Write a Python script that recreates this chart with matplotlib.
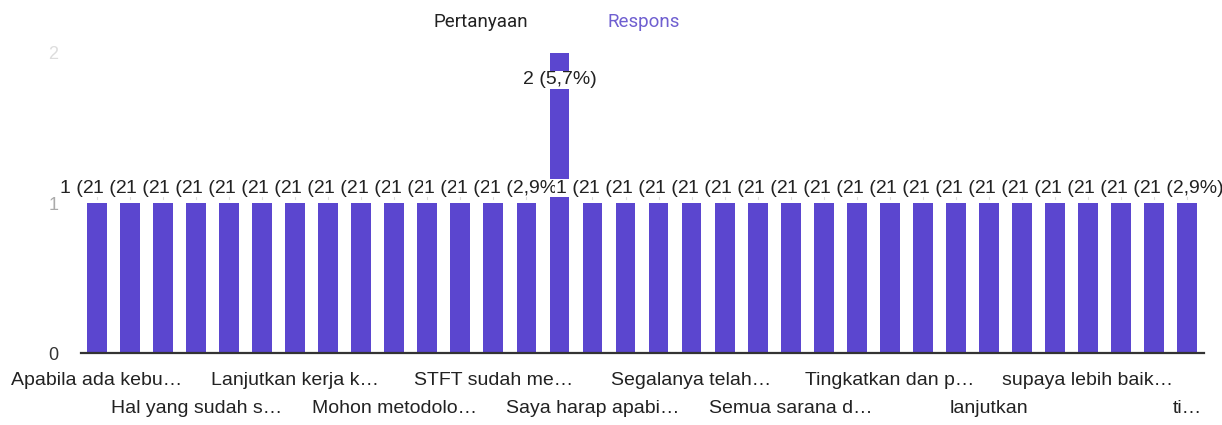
import matplotlib

matplotlib.use("Agg")
import matplotlib.pyplot as plt

# responses per answer (34 answers, 35 responses in total)
values = [1, 1, 1, 1, 1, 1, 1, 1, 1, 1, 1, 1, 1, 1, 2, 1, 1,
          1, 1, 1, 1, 1, 1, 1, 1, 1, 1, 1, 1, 1, 1, 1, 1, 1]
# only every third answer gets a label on the axis
label_positions = [0, 3, 6, 9, 12, 15, 18, 21, 24, 27, 30, 33]
tick_labels = ["Apabila ada kebu…", "Hal yang sudah s…", "Lanjutkan kerja k…",
               "Mohon metodolo…", "STFT sudah me…", "Saya harap apabi…",
               "Segalanya telah…", "Semua sarana d…", "Tingkatkan dan p…",
               "lanjutkan", "supaya lebih baik…", "ti…"]
y_ticks = [0, 1, 2]
legend_items = ["Pertanyaan", "Respons"]

BAR = "#5b46cf"
total = sum(values)

plt.rcParams["font.family"] = ["Liberation Sans", "DejaVu Sans"]
fig = plt.figure(figsize=(12.22, 4.25), dpi=100)
ax = fig.add_axes([0.0659, 0.1694, 0.919, 0.7059])

x = list(range(len(values)))
ax.bar(x, values, width=0.6, color=BAR, zorder=2)
ax.set_xlim(-0.5, len(values) - 0.5)
ax.set_ylim(0, 2)

# faint stems between label and bar top
for xi, v in zip(x, values):
    if v == 1:
        ax.plot([xi, xi], [1.03, 1.07], color="#dddddd", lw=0.8, zorder=1)

# value labels, drawn left to right so each one covers part of the previous
for xi, v in zip(x, values):
    pct = f"{100 * v / total:.1f}".replace(".", ",")
    y = v + 0.1 if v < 2 else 1.82
    ax.text(xi, y, f"{v} ({pct}%)", ha="center", va="center", fontsize=14,
            color="#222222", zorder=5, clip_on=False,
            bbox=dict(facecolor="white", edgecolor="none", pad=0.2))

for s in ["top", "right", "left"]:
    ax.spines[s].set_visible(False)
ax.spines["bottom"].set_color("#333333")
ax.spines["bottom"].set_linewidth(1.6)

ax.set_xticks(label_positions, tick_labels, fontsize=14, color="#222222")
ax.tick_params(axis="x", length=0)
for i, tick in enumerate(ax.xaxis.get_major_ticks()):
    tick.set_pad(14 if i % 2 == 0 else 34)

ax.set_yticks(y_ticks, [str(t) for t in y_ticks], fontsize=13)
ax.tick_params(axis="y", length=0, pad=16)
for lab, c in zip(ax.get_yticklabels(), ["#333333", "#aaaaaa", "#dddddd"]):
    lab.set_color(c)

fig.text(481 / 1222, 1 - 22 / 425, legend_items[0], ha="center", va="center",
         fontsize=13.5, family="Roboto", color="#222222")
fig.text(644 / 1222, 1 - 22 / 425, legend_items[1], ha="center", va="center",
         fontsize=13.5, family="Roboto", color="#6f5fd0")

fig.savefig("out.png", dpi=100)
plt.close(fig)
